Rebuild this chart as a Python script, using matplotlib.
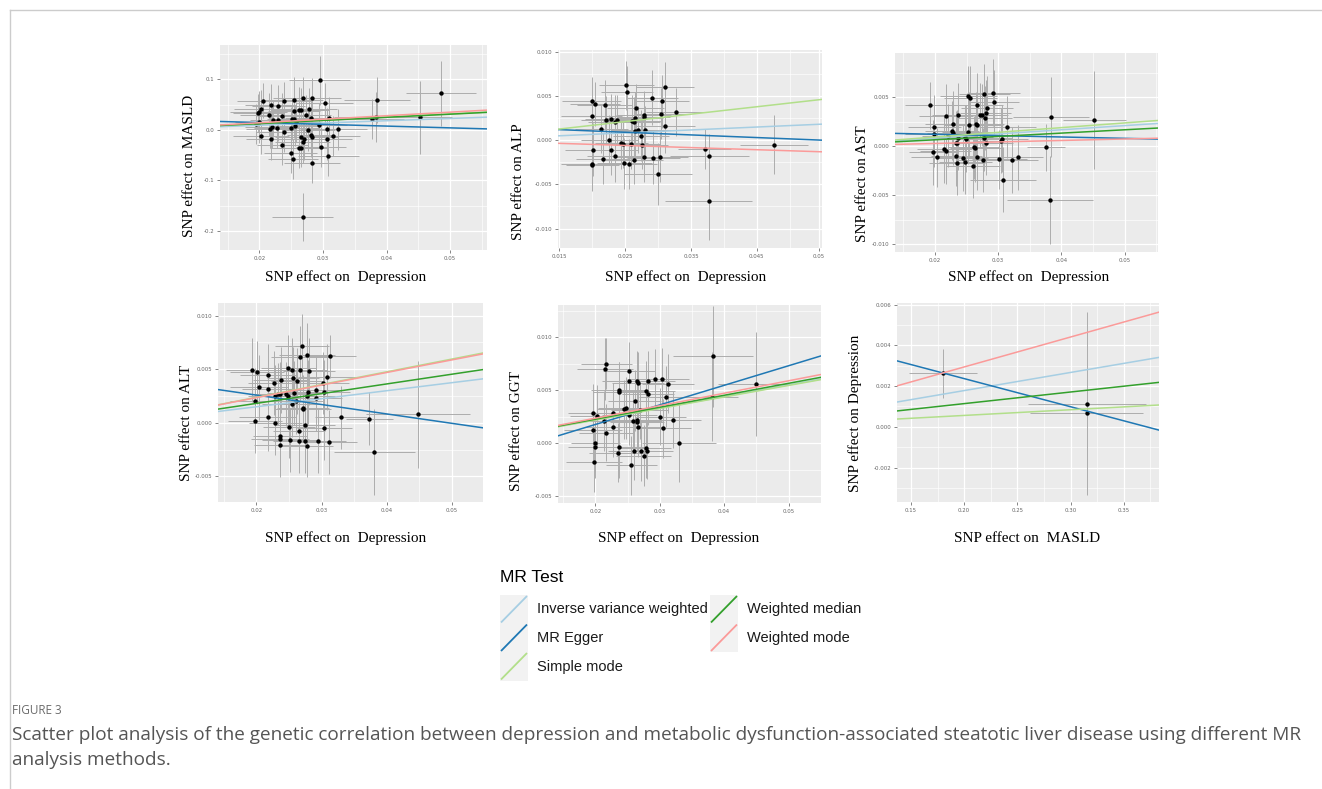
import numpy as np
import matplotlib
matplotlib.use("Agg")
import matplotlib.pyplot as plt
from matplotlib.ticker import MultipleLocator, FixedLocator

plt.rcParams['axes.unicode_minus'] = False

W, H = 1322, 789

# MR methods and colours (order as drawn)
methods = ['Inverse variance weighted', 'MR Egger', 'Simple mode',
           'Weighted median', 'Weighted mode']
method_colors = ['#A6CEE3', '#1F78B4', '#B2DF8A', '#33A02C', '#FB9A99']

# points: (beta exposure, beta outcome, se exposure, se outcome)
masld_pts = [
    (0.0295, 0.098, 0.0048, 0.048), (0.0205, 0.058, 0.0040, 0.035), (0.0199, 0.036, 0.0045, 0.040),
    (0.0198, 0.033, 0.0040, 0.038), (0.0202, 0.042, 0.0042, 0.036), (0.0200, 0.016, 0.0038, 0.042),
    (0.0194, 0.011, 0.0036, 0.040), (0.0202, -0.012, 0.0044, 0.035), (0.0218, 0.050, 0.0040, 0.040),
    (0.0215, 0.030, 0.0046, 0.042), (0.0222, 0.019, 0.0036, 0.038), (0.0220, 0.005, 0.0042, 0.040),
    (0.0217, 0.001, 0.0038, 0.036), (0.0219, -0.019, 0.0040, 0.040), (0.0230, 0.048, 0.0041, 0.040),
    (0.0230, 0.020, 0.0045, 0.042), (0.0228, 0.004, 0.0037, 0.040), (0.0238, 0.057, 0.0043, 0.038),
    (0.0235, 0.028, 0.0039, 0.044), (0.0238, -0.004, 0.0044, 0.040), (0.0236, -0.030, 0.0040, 0.040),
    (0.0254, 0.060, 0.0046, 0.044), (0.0254, 0.038, 0.0041, 0.040), (0.0252, 0.022, 0.0038, 0.042),
    (0.0255, 0.021, 0.0043, 0.038), (0.0257, 0.015, 0.0040, 0.040), (0.0256, 0.007, 0.0036, 0.040),
    (0.0249, 0.003, 0.0045, 0.042), (0.0249, -0.045, 0.0042, 0.040), (0.0253, -0.058, 0.0039, 0.040),
    (0.0268, 0.064, 0.0047, 0.040), (0.0262, 0.040, 0.0041, 0.044), (0.0266, 0.040, 0.0044, 0.042),
    (0.0265, -0.014, 0.0040, 0.040), (0.0270, -0.018, 0.0038, 0.042), (0.0268, -0.025, 0.0043, 0.040),
    (0.0262, -0.035, 0.0045, 0.040), (0.0266, -0.036, 0.0041, 0.038), (0.0273, 0.029, 0.0039, 0.040),
    (0.0278, 0.041, 0.0044, 0.042), (0.0281, 0.024, 0.0040, 0.040), (0.0282, 0.063, 0.0046, 0.040),
    (0.0277, -0.001, 0.0042, 0.040), (0.0281, -0.011, 0.0038, 0.042), (0.0283, -0.014, 0.0041, 0.040),
    (0.0283, -0.066, 0.0044, 0.040), (0.0294, 0.010, 0.0043, 0.044), (0.0303, 0.053, 0.0045, 0.040),
    (0.0306, -0.019, 0.0040, 0.040), (0.0306, 0.001, 0.0042, 0.042), (0.0297, -0.034, 0.0039, 0.040),
    (0.0308, -0.052, 0.0048, 0.040), (0.0310, 0.023, 0.0041, 0.042), (0.0315, -0.012, 0.0044, 0.040),
    (0.0323, 0.001, 0.0046, 0.040), (0.0268, -0.173, 0.0048, 0.047), (0.0377, 0.022, 0.0050, 0.040),
    (0.0385, 0.059, 0.0052, 0.046), (0.0383, 0.025, 0.0065, 0.050), (0.0453, 0.025, 0.0050, 0.072),
    (0.0486, 0.072, 0.0055, 0.065),
]
alp_pts = [
    (0.0252, 0.0062, 0.0042, 0.0028), (0.0253, 0.0054, 0.0040, 0.0030), (0.0199, 0.0044, 0.0045, 0.0027),
    (0.0204, 0.0041, 0.0038, 0.0025), (0.0219, 0.0040, 0.0042, 0.0028), (0.0291, 0.0048, 0.0040, 0.0031),
    (0.0311, 0.0060, 0.0044, 0.0028), (0.0306, 0.0044, 0.0041, 0.0030), (0.0266, 0.0036, 0.0043, 0.0027),
    (0.0305, 0.0030, 0.0040, 0.0029), (0.0327, 0.0032, 0.0045, 0.0027), (0.0199, 0.0027, 0.0046, 0.0030),
    (0.0229, 0.0024, 0.0040, 0.0028), (0.0221, 0.0023, 0.0038, 0.0027), (0.0235, 0.0021, 0.0042, 0.0030),
    (0.0237, 0.0023, 0.0041, 0.0028), (0.0261, 0.0022, 0.0044, 0.0029), (0.0263, 0.0021, 0.0040, 0.0028),
    (0.0265, 0.0025, 0.0043, 0.0030), (0.0278, 0.0026, 0.0040, 0.0029), (0.0278, 0.0028, 0.0042, 0.0028),
    (0.0311, 0.0016, 0.0045, 0.0030), (0.0214, 0.0013, 0.0040, 0.0028), (0.0270, 0.0012, 0.0041, 0.0027),
    (0.0265, 0.0010, 0.0044, 0.0030), (0.0280, 0.0011, 0.0040, 0.0028), (0.0274, 0.0005, 0.0042, 0.0029),
    (0.0226, 0.0000, 0.0043, 0.0028), (0.0244, -0.0003, 0.0040, 0.0030), (0.0247, -0.0004, 0.0041, 0.0028),
    (0.0259, -0.0004, 0.0044, 0.0029), (0.0275, -0.0005, 0.0040, 0.0028), (0.0201, -0.0011, 0.0042, 0.0030),
    (0.0229, -0.0011, 0.0040, 0.0028), (0.0235, -0.0018, 0.0043, 0.0029), (0.0279, -0.0019, 0.0045, 0.0028),
    (0.0293, -0.0020, 0.0040, 0.0030), (0.0303, -0.0019, 0.0042, 0.0028), (0.0216, -0.0021, 0.0041, 0.0029),
    (0.0263, -0.0022, 0.0044, 0.0028), (0.0199, -0.0027, 0.0046, 0.0030), (0.0200, -0.0028, 0.0040, 0.0028),
    (0.0249, -0.0026, 0.0042, 0.0029), (0.0256, -0.0027, 0.0043, 0.0028), (0.0300, -0.0038, 0.0052, 0.0035),
    (0.0371, -0.0010, 0.0040, 0.0023), (0.0378, -0.0018, 0.0060, 0.0025), (0.0377, -0.0069, 0.0066, 0.0044),
    (0.0476, -0.0005, 0.0052, 0.0033),
]
ast_pts = [
    (0.0192, 0.0042, 0.0040, 0.0024), (0.0199, 0.0020, 0.0042, 0.0033), (0.0198, 0.0013, 0.0045, 0.0034),
    (0.0197, -0.0006, 0.0038, 0.0033), (0.0203, -0.0011, 0.0041, 0.0030), (0.0217, 0.0031, 0.0043, 0.0033),
    (0.0220, 0.0011, 0.0040, 0.0032), (0.0215, -0.0003, 0.0044, 0.0034), (0.0217, -0.0005, 0.0040, 0.0033),
    (0.0227, 0.0016, 0.0042, 0.0030), (0.0229, 0.0014, 0.0041, 0.0033), (0.0228, 0.0023, 0.0043, 0.0034),
    (0.0236, 0.0032, 0.0040, 0.0033), (0.0233, 0.0004, 0.0045, 0.0032), (0.0235, 0.0003, 0.0042, 0.0034),
    (0.0236, 0.0009, 0.0040, 0.0033), (0.0234, -0.0010, 0.0041, 0.0030), (0.0235, -0.0017, 0.0044, 0.0033),
    (0.0244, -0.0012, 0.0040, 0.0034), (0.0248, -0.0016, 0.0042, 0.0033), (0.0248, 0.0010, 0.0043, 0.0032),
    (0.0249, 0.0008, 0.0040, 0.0034), (0.0252, 0.0015, 0.0041, 0.0033), (0.0253, 0.0052, 0.0045, 0.0030),
    (0.0256, 0.0049, 0.0042, 0.0033), (0.0254, 0.0022, 0.0040, 0.0034), (0.0260, -0.0020, 0.0043, 0.0033),
    (0.0261, -0.0001, 0.0040, 0.0032), (0.0264, -0.0002, 0.0041, 0.0034), (0.0265, 0.0023, 0.0044, 0.0033),
    (0.0267, 0.0022, 0.0040, 0.0030), (0.0266, 0.0042, 0.0042, 0.0033), (0.0267, -0.0011, 0.0043, 0.0034),
    (0.0271, 0.0032, 0.0040, 0.0033), (0.0275, 0.0032, 0.0041, 0.0032), (0.0277, 0.0009, 0.0045, 0.0034),
    (0.0276, -0.0014, 0.0042, 0.0033), (0.0278, 0.0054, 0.0040, 0.0030), (0.0279, 0.0029, 0.0043, 0.0033),
    (0.0280, 0.0034, 0.0040, 0.0034), (0.0282, 0.0039, 0.0041, 0.0033), (0.0280, 0.0003, 0.0044, 0.0032),
    (0.0292, 0.0055, 0.0042, 0.0034), (0.0293, 0.0045, 0.0040, 0.0033), (0.0302, -0.0013, 0.0043, 0.0030),
    (0.0305, 0.0006, 0.0040, 0.0033), (0.0306, 0.0008, 0.0041, 0.0034), (0.0307, -0.0034, 0.0052, 0.0033),
    (0.0314, 0.0020, 0.0045, 0.0032), (0.0321, -0.0014, 0.0042, 0.0034), (0.0331, -0.0011, 0.0040, 0.0033),
    (0.0375, -0.0001, 0.0030, 0.0024), (0.0383, 0.0030, 0.0060, 0.0041), (0.0382, -0.0055, 0.0068, 0.0045),
    (0.0452, 0.0027, 0.0050, 0.0050),
]
alt_pts = [
    (0.0193, 0.0049, 0.0040, 0.0030), (0.0201, 0.0047, 0.0042, 0.0029), (0.0204, 0.0033, 0.0045, 0.0030),
    (0.0198, 0.0020, 0.0038, 0.0031), (0.0198, 0.0002, 0.0041, 0.0030), (0.0217, 0.0045, 0.0043, 0.0029),
    (0.0218, 0.0032, 0.0040, 0.0030), (0.0217, 0.0005, 0.0044, 0.0031), (0.0227, 0.0037, 0.0040, 0.0030),
    (0.0229, 0.0025, 0.0042, 0.0029), (0.0229, 0.0000, 0.0041, 0.0030), (0.0237, 0.0040, 0.0043, 0.0031),
    (0.0236, 0.0027, 0.0040, 0.0030), (0.0233, 0.0027, 0.0045, 0.0029), (0.0245, 0.0027, 0.0042, 0.0030),
    (0.0248, 0.0025, 0.0040, 0.0031), (0.0236, -0.0012, 0.0041, 0.0030), (0.0236, -0.0015, 0.0044, 0.0029),
    (0.0236, -0.0021, 0.0040, 0.0030), (0.0249, 0.0051, 0.0042, 0.0031), (0.0254, 0.0049, 0.0043, 0.0030),
    (0.0256, 0.0042, 0.0040, 0.0029), (0.0257, 0.0028, 0.0041, 0.0030), (0.0254, 0.0018, 0.0045, 0.0031),
    (0.0261, 0.0020, 0.0042, 0.0030), (0.0250, -0.0004, 0.0040, 0.0029), (0.0252, -0.0016, 0.0043, 0.0030),
    (0.0263, 0.0039, 0.0040, 0.0031), (0.0267, 0.0049, 0.0041, 0.0030), (0.0267, 0.0061, 0.0044, 0.0029),
    (0.0270, 0.0072, 0.0042, 0.0030), (0.0271, 0.0014, 0.0040, 0.0031), (0.0272, 0.0013, 0.0043, 0.0030),
    (0.0265, -0.0008, 0.0040, 0.0029), (0.0266, -0.0017, 0.0041, 0.0030), (0.0275, -0.0002, 0.0045, 0.0031),
    (0.0275, -0.0017, 0.0042, 0.0030), (0.0278, -0.0022, 0.0040, 0.0029), (0.0278, 0.0063, 0.0043, 0.0030),
    (0.0281, 0.0048, 0.0040, 0.0031), (0.0279, 0.0029, 0.0041, 0.0030), (0.0277, 0.0025, 0.0044, 0.0029),
    (0.0292, 0.0031, 0.0042, 0.0030), (0.0292, 0.0023, 0.0040, 0.0031), (0.0295, -0.0017, 0.0043, 0.0030),
    (0.0302, 0.0037, 0.0040, 0.0029), (0.0303, 0.0029, 0.0041, 0.0030), (0.0309, 0.0043, 0.0045, 0.0031),
    (0.0304, -0.0005, 0.0042, 0.0030), (0.0313, 0.0062, 0.0040, 0.0020), (0.0312, -0.0018, 0.0043, 0.0030),
    (0.0330, 0.0005, 0.0040, 0.0029), (0.0373, 0.0004, 0.0036, 0.0025), (0.0381, -0.0027, 0.0062, 0.0040),
    (0.0448, 0.0008, 0.0080, 0.0050),
]
ggt_pts = [
    (0.0197, 0.0028, 0.0040, 0.0028), (0.0203, 0.0026, 0.0042, 0.0029), (0.0197, 0.0012, 0.0045, 0.0028),
    (0.0200, 0.0000, 0.0038, 0.0027), (0.0199, -0.0004, 0.0041, 0.0029), (0.0198, -0.0018, 0.0043, 0.0028),
    (0.0217, 0.0075, 0.0040, 0.0024), (0.0215, 0.0070, 0.0044, 0.0029), (0.0213, 0.0021, 0.0040, 0.0028),
    (0.0217, 0.0010, 0.0042, 0.0027), (0.0228, 0.0028, 0.0041, 0.0029), (0.0228, 0.0015, 0.0043, 0.0028),
    (0.0236, -0.0004, 0.0040, 0.0029), (0.0235, -0.0009, 0.0045, 0.0028), (0.0236, 0.0050, 0.0042, 0.0027),
    (0.0236, 0.0048, 0.0040, 0.0029), (0.0244, 0.0032, 0.0041, 0.0028), (0.0248, 0.0033, 0.0044, 0.0029),
    (0.0252, 0.0068, 0.0040, 0.0028), (0.0252, 0.0059, 0.0042, 0.0027), (0.0253, 0.0027, 0.0043, 0.0029),
    (0.0256, -0.0021, 0.0040, 0.0028), (0.0261, 0.0040, 0.0041, 0.0029), (0.0259, 0.0021, 0.0045, 0.0028),
    (0.0264, 0.0020, 0.0042, 0.0027), (0.0265, 0.0022, 0.0040, 0.0029), (0.0265, 0.0059, 0.0043, 0.0028),
    (0.0266, 0.0057, 0.0040, 0.0029), (0.0266, 0.0015, 0.0041, 0.0028), (0.0269, 0.0031, 0.0044, 0.0027),
    (0.0271, -0.0007, 0.0042, 0.0029), (0.0260, -0.0007, 0.0040, 0.0028), (0.0275, -0.0012, 0.0043, 0.0029),
    (0.0278, -0.0005, 0.0040, 0.0028), (0.0280, -0.0007, 0.0041, 0.0027), (0.0279, 0.0049, 0.0045, 0.0029),
    (0.0281, 0.0059, 0.0042, 0.0028), (0.0282, 0.0046, 0.0040, 0.0029), (0.0292, 0.0061, 0.0043, 0.0028),
    (0.0301, 0.0025, 0.0040, 0.0027), (0.0304, 0.0061, 0.0041, 0.0029), (0.0305, 0.0014, 0.0044, 0.0028),
    (0.0309, 0.0044, 0.0042, 0.0029), (0.0313, 0.0056, 0.0040, 0.0028), (0.0321, 0.0022, 0.0043, 0.0027),
    (0.0330, 0.0000, 0.0058, 0.0037), (0.0382, 0.0082, 0.0062, 0.0048), (0.0381, 0.0044, 0.0040, 0.0042),
    (0.0450, 0.0056, 0.0060, 0.0049),
]
dep_pts = [
    (0.1799, 0.00263, 0.032, 0.0012), (0.3157, 0.00113, 0.0555, 0.0045), (0.3153, 0.00066, 0.053, 0.0026),
]

# fitted lines per panel, order = methods (None = not drawn)
masld_slopes = [0.45, -0.35, 0.63, 0.62, 0.70]
masld_icepts = [0, 0.0214, 0, 0, 0]
alp_slopes = [0.033, -0.0299, 0.084, None, -0.024]
alp_icepts = [0, 0.00164, 0, 0, 0]
ast_slopes = [0.0425, -0.0139, 0.048, 0.034, 0.0152]
ast_icepts = [0, 0.00152, 0, 0, 0]
alt_slopes = [0.0749, -0.0878, 0.119, 0.0907, 0.1174]
alt_icepts = [0, 0.00434, 0, 0, 0]
ggt_slopes = [0.110, 0.185, 0.109, 0.113, 0.1178]
ggt_icepts = [0, -0.00194, 0, 0, 0]
dep_slopes = [0.0089, -0.01381, 0.0028, 0.0057, 0.0147]
dep_icepts = [0, 0.00513, 0, 0, 0]

dep_xticks = [0.02, 0.03, 0.04, 0.05]
dep_xlabels = ['0.02', '0.03', '0.04', '0.05']
alp_xticks = [0.015, 0.025, 0.035, 0.045, 0.0544]
alp_xlabels = ['0.015', '0.025', '0.035', '0.045', '0.05']
masld_xticks = [0.15, 0.20, 0.25, 0.30, 0.35]
masld_xlabels = ['0.15', '0.20', '0.25', '0.30', '0.35']


def box(l, t, r, b):
    return [l / W, 1 - b / H, (r - l) / W, (b - t) / H]


panels = [
    dict(pts=masld_pts, slopes=masld_slopes, icepts=masld_icepts, pos=box(220, 45, 487, 250),
         xlim=(0.0138, 0.0558), ylim=(-0.238, 0.168), xt=dep_xticks, xtl=dep_xlabels,
         yt=[0.1, 0.0, -0.1, -0.2], ytl=['0.1', '0.0', '-0.1', '-0.2'], xm=0.005, ym=0.05,
         xlab='SNP effect on  Depression', ylab='SNP effect on MASLD', xl=(346, 277), yl=(190, 166)),
    dict(pts=alp_pts, slopes=alp_slopes, icepts=alp_icepts, pos=box(558, 50, 822, 248),
         xlim=(0.0148, 0.0549), ylim=(-0.0122, 0.0102), xt=alp_xticks, xtl=alp_xlabels,
         yt=[0.010, 0.005, 0.0, -0.005, -0.010], ytl=['0.010', '0.005', '0.000', '-0.005', '-0.010'],
         xm=0.005, ym=0.0025,
         xlab='SNP effect on  Depression', ylab='SNP effect on ALP', xl=(686, 277), yl=(519, 182)),
    dict(pts=ast_pts, slopes=ast_slopes, icepts=ast_icepts, pos=box(895, 53, 1158, 252),
         xlim=(0.01368, 0.05526), ylim=(-0.01078, 0.00954), xt=dep_xticks, xtl=dep_xlabels,
         yt=[0.005, 0.0, -0.005, -0.010], ytl=['0.005', '0.000', '-0.005', '-0.010'],
         xm=0.005, ym=0.0025,
         xlab='SNP effect on  Depression', ylab='SNP effect on AST', xl=(1029, 277), yl=(862, 184)),
    dict(pts=alt_pts, slopes=alt_slopes, icepts=alt_icepts, pos=box(218, 303, 483, 502),
         xlim=(0.0141, 0.05477), ylim=(-0.00739, 0.01118), xt=dep_xticks, xtl=dep_xlabels,
         yt=[0.010, 0.005, 0.0, -0.005], ytl=['0.010', '0.005', '0.000', '-0.005'],
         xm=0.005, ym=0.0025,
         xlab='SNP effect on  Depression', ylab='SNP effect on ALT', xl=(346, 538), yl=(187, 423)),
    dict(pts=ggt_pts, slopes=ggt_slopes, icepts=ggt_icepts, pos=box(558, 305, 821, 503),
         xlim=(0.0142, 0.05503), ylim=(-0.00566, 0.01305), xt=dep_xticks, xtl=dep_xlabels,
         yt=[0.010, 0.005, 0.0, -0.005], ytl=['0.010', '0.005', '0.000', '-0.005'],
         xm=0.005, ym=0.0025,
         xlab='SNP effect on  Depression', ylab='SNP effect on GGT', xl=(679, 538), yl=(517, 431)),
    dict(pts=dep_pts, slopes=dep_slopes, icepts=dep_icepts, pos=box(897, 303, 1159, 502),
         xlim=(0.1369, 0.3831), ylim=(-0.00369, 0.00608), xt=masld_xticks, xtl=masld_xlabels,
         yt=[0.006, 0.004, 0.002, 0.0, -0.002], ytl=['0.006', '0.004', '0.002', '0.000', '-0.002'],
         xm=0.025, ym=0.001,
         xlab='SNP effect on  MASLD', ylab='SNP effect on Depression', xl=(1027, 538), yl=(855, 413)),
]

fig = plt.figure(figsize=(W / 100, H / 100), dpi=100)
fig.patch.set_facecolor('white')

serif = 'Liberation Serif'
sans = 'Liberation Sans'

for p in panels:
    ax = fig.add_axes(p['pos'])
    ax.set_facecolor('#EBEBEB')
    for s in ax.spines.values():
        s.set_visible(False)
    x, y, xse, yse = [np.array(v) for v in zip(*p['pts'])]
    ax.errorbar(x, y, xerr=xse, yerr=yse, fmt='none', ecolor='#ADADAD',
                elinewidth=0.7, capsize=0, zorder=2)
    ax.scatter(x, y, s=10, color='black', zorder=3, linewidths=0)
    for b, a, c in zip(p['slopes'], p['icepts'], method_colors):
        if b is None:
            continue
        ax.axline((0, a), slope=b, color=c, lw=1.1, zorder=4)
    ax.set_xlim(*p['xlim'])
    ax.set_ylim(*p['ylim'])
    ax.xaxis.set_major_locator(FixedLocator(p['xt']))
    ax.set_xticklabels(p['xtl'])
    ax.yaxis.set_major_locator(FixedLocator(p['yt']))
    ax.set_yticklabels(p['ytl'])
    ax.xaxis.set_minor_locator(MultipleLocator(p['xm']))
    ax.yaxis.set_minor_locator(MultipleLocator(p['ym']))
    ax.grid(True, which='major', color='white', lw=0.9, zorder=0)
    ax.grid(True, which='minor', color='white', lw=0.45, zorder=0)
    ax.set_axisbelow(True)
    ax.tick_params(which='major', length=2, width=0.5, color='#555555',
                   labelsize=3.9, labelcolor='#666666', pad=2)
    ax.tick_params(which='minor', length=0)
    fig.text(p['xl'][0] / W, 1 - p['xl'][1] / H, p['xlab'], family=serif,
             fontsize=11, ha='center', va='center')
    fig.text(p['yl'][0] / W, 1 - p['yl'][1] / H, p['ylab'], family=serif,
             fontsize=11, ha='center', va='center', rotation=90)

# overlay in pixel units for legend, frame and caption
ov = fig.add_axes([0, 0, 1, 1], zorder=10)
ov.set_xlim(0, W)
ov.set_ylim(H, 0)
ov.axis('off')
ov.patch.set_alpha(0)

ov.plot([10, W], [10, 10], color='#CCCCCC', lw=1)
ov.plot([10, 10], [10, H], color='#CCCCCC', lw=1)

ov.text(500, 578, 'MR Test', family=sans, fontsize=12.5, ha='left', va='center')
key_cols = [(500, [0, 1, 2]), (710, [3, 4])]
for kx, idxs in key_cols:
    for row, i in enumerate(idxs):
        top = 595 + row * 28.5
        ov.add_patch(plt.Rectangle((kx, top), 28, 28.5, facecolor='#F2F2F2', edgecolor='none'))
        ov.plot([kx + 1, kx + 27], [top + 27.5, top + 1], color=method_colors[i], lw=1.3,
                solid_capstyle='butt')
        ov.text(kx + 37, top + 14.5, methods[i], family=sans, fontsize=10.5,
                ha='left', va='center', color='#1A1A1A')

ov.text(12, 711, 'FIGURE 3', family='Open Sans', fontsize=8.5, color='#6B6B6B',
        ha='left', va='center')
ov.text(12, 735, 'Scatter plot analysis of the genetic correlation between depression and '
        'metabolic dysfunction-associated steatotic liver disease using different MR',
        family='Open Sans', fontsize=13.7, color='#555555', ha='left', va='center')
ov.text(12, 760, 'analysis methods.', family='Open Sans', fontsize=13.7, color='#555555',
        ha='left', va='center')

fig.savefig('out.png', dpi=100)
